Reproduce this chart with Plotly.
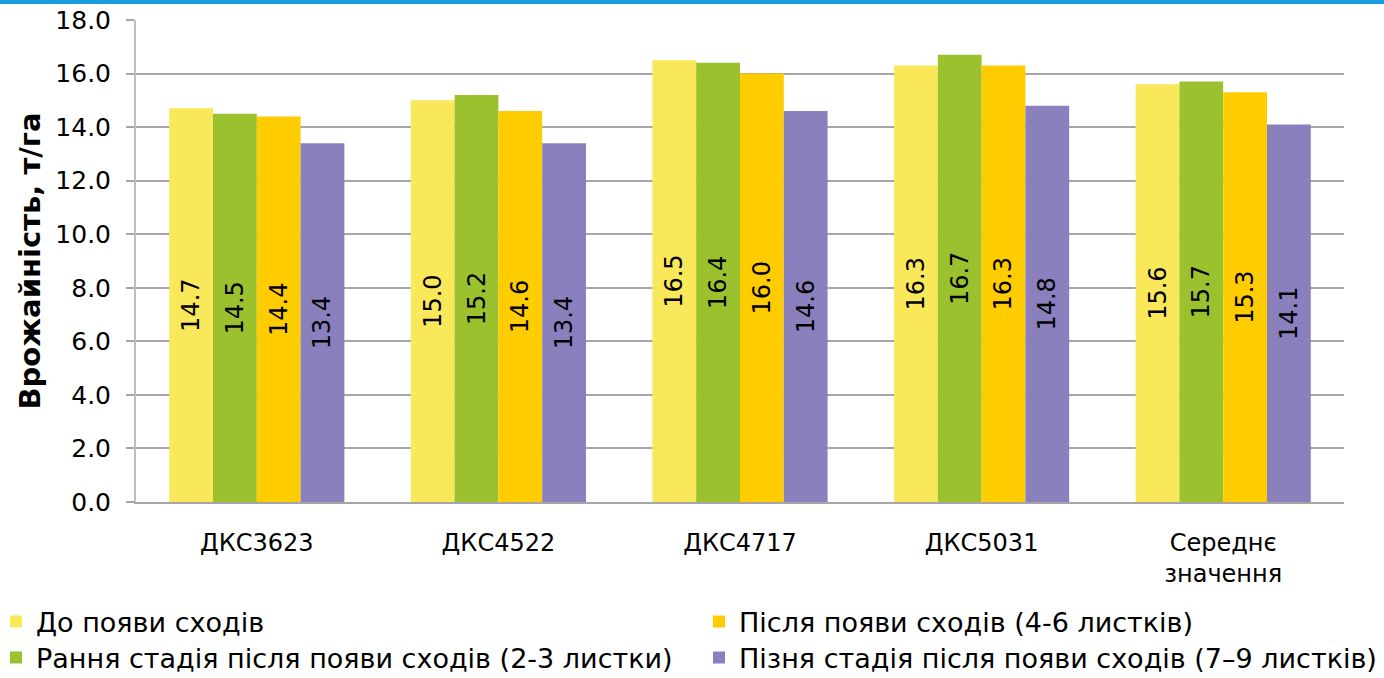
import plotly.graph_objects as go

categories = ["ДКС3623", "ДКС4522", "ДКС4717", "ДКС5031", "Середнє<br>значення"]
series_names = [
    "До появи сходів",
    "Рання стадія після появи сходів (2-3 листки)",
    "Після появи сходів (4-6 листків)",
    "Пізня стадія після появи сходів (7–9 листків)",
]
before = [14.7, 15.0, 16.5, 16.3, 15.6]
early = [14.5, 15.2, 16.4, 16.7, 15.7]
after = [14.4, 14.6, 16.0, 16.3, 15.3]
late = [13.4, 13.4, 14.6, 14.8, 14.1]
y_ticks = [0, 2, 4, 6, 8, 10, 12, 14, 16, 18]

colors = ["#F9E85A", "#9BC12F", "#FFCC00", "#8A80BD"]
values = [before, early, after, late]
legends = ["legend", "legend2", "legend3", "legend4"]

FONT = "DejaVu Sans"
W, H = 1384, 678
ML, MR, MT, MB = 136, 40, 20, 176
PW = W - ML - MR
PH = H - MT - MB

def px_x(p):
    return (p - ML) / PW

def px_y(p):
    return (H - MB - p) / PH

fig = go.Figure()
for name, vals, col, lg in zip(series_names, values, colors, legends):
    fig.add_trace(go.Bar(
        x=categories, y=vals, name=name,
        marker=dict(color=col, line=dict(width=0)),
        texttemplate="%{y:.1f}",
        textposition="inside",
        insidetextanchor="middle",
        textangle=-90,
        constraintext="none",
        textfont=dict(family=FONT, size=24, color="black"),
        legend=lg, showlegend=True,
    ))

legend_common = dict(
    orientation="v", xanchor="left", yanchor="middle",
    font=dict(family=FONT, size=27, color="black"),
    bgcolor="rgba(0,0,0,0)", itemwidth=30, visible=True,
)
fig.update_layout(
    width=W, height=H,
    margin=dict(l=ML, r=MR, t=MT, b=MB, autoexpand=False),
    paper_bgcolor="white", plot_bgcolor="white",
    showlegend=True,
    barmode="group", bargap=0.275, bargroupgap=0,
    font=dict(family=FONT, color="black"),
    legend=dict(x=px_x(-4), y=px_y(622), **legend_common),
    legend2=dict(x=px_x(-4), y=px_y(658), **legend_common),
    legend3=dict(x=px_x(699), y=px_y(622), **legend_common),
    legend4=dict(x=px_x(699), y=px_y(658), **legend_common),
    xaxis=dict(
        showline=True, linecolor="#A6A6A6", linewidth=2,
        tickfont=dict(family=FONT, size=24, color="black"),
        ticks="", showgrid=False, ticklabelstandoff=18,
    ),
    yaxis=dict(
        range=[0, 18], tickvals=y_ticks, tickformat=".1f",
        showline=True, linecolor="#BFBFBF", linewidth=2,
        ticks="outside", ticklen=8, tickcolor="#A6A6A6", tickwidth=2,
        gridcolor="#A6A6A6", gridwidth=2, ticklabelstandoff=10,
        tickfont=dict(family=FONT, size=25, color="black"),
        title=dict(text="<b>Врожайність, т/га</b>",
                   font=dict(family=FONT, size=29, color="black"), standoff=6),
        zeroline=False,
    ),
    shapes=[dict(type="line", xref="paper", yref="paper",
                 x0=px_x(0), x1=px_x(W), y0=px_y(2), y1=px_y(2),
                 line=dict(color="#1A9EE0", width=4))],
)

fig.write_html(
    "out.html",
    config={"displayModeBar": False},
    post_script="document.documentElement.style.margin='0';document.body.style.margin='0';document.body.style.overflow='hidden';",
)
